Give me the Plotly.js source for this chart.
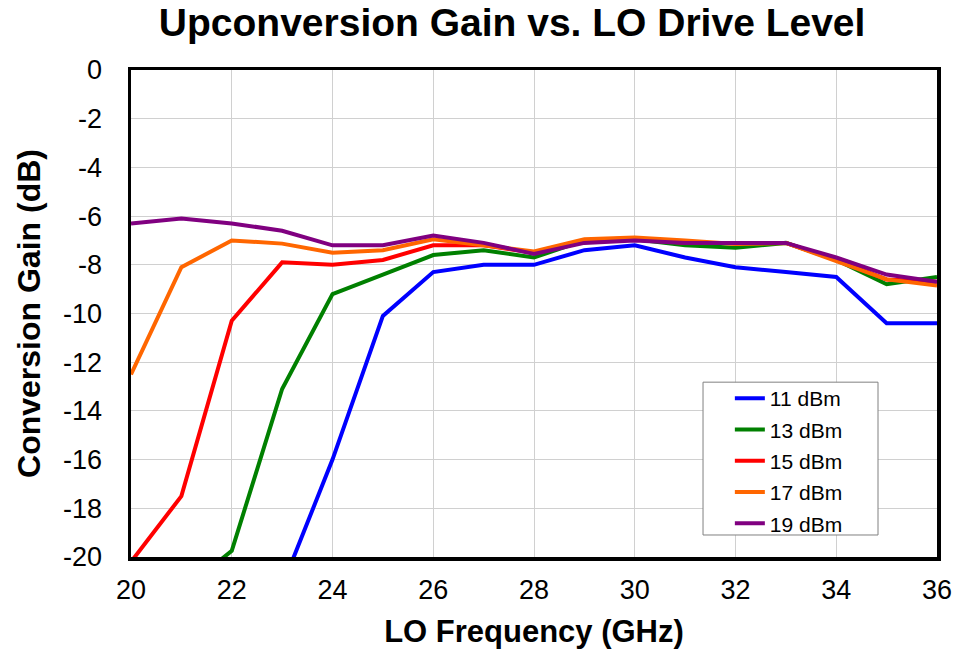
<!DOCTYPE html>
<html>
<head>
<meta charset="utf-8">
<script src="https://cdn.plot.ly/plotly-3.0.1.min.js"></script>
<style>html,body{margin:0;padding:0;background:#fff;}#chart{width:959px;height:656px;}</style>
</head>
<body>
<div id="chart"></div>
<script>
const freq = [20,21,22,23,24,25,26,27,28,29,30,31,32,33,34,35,36];
const seriesNames = ["11 dBm","13 dBm","15 dBm","17 dBm","19 dBm"];
const gain11 = [null,null,null,-21.2,-16.0,-10.1,-8.3,-8.0,-8.0,-7.4,-7.2,-7.7,-8.1,-8.3,-8.5,-10.4,-10.4];
const gain13 = [null,-21.4,-19.75,-13.1,-9.2,-8.4,-7.6,-7.4,-7.7,-7.0,-6.95,-7.2,-7.3,-7.1,-7.8,-8.8,-8.5];
const gain15 = [-20.2,-17.5,-10.3,-7.9,-8.0,-7.8,-7.2,-7.2,-7.5,-7.0,-6.9,-7.1,-7.1,-7.1,-7.8,-8.6,-8.7];
const gain17 = [-12.5,-8.1,-7.0,-7.13,-7.5,-7.4,-6.95,-7.2,-7.45,-6.95,-6.88,-7.0,-7.15,-7.1,-7.85,-8.6,-8.85];
const gain19 = [-6.3,-6.1,-6.3,-6.6,-7.2,-7.2,-6.8,-7.1,-7.55,-7.1,-7.0,-7.1,-7.1,-7.1,-7.7,-8.4,-8.7];
const yTickVals = [0,-2,-4,-6,-8,-10,-12,-14,-16,-18,-20];
const yTickText = ["0","-2","-4","-6","-8","-10","-12","-14","-16","-18","-20"];
const colors = ["#0000FF","#008000","#FF0000","#FF6600","#800080"];
const allGain = [gain11,gain13,gain15,gain17,gain19];

const traces = allGain.map((g,i)=>({
  x: freq, y: g, name: seriesNames[i], legendgroup: "g"+i, type:"scatter", mode:"lines",
  line:{color:colors[i], width:4}, connectgaps:false
}));

const FONT = "Liberation Sans, Arial, sans-serif";
const axisFont = {family:FONT, size:27, color:"#000"};
const layout = {
  width:959, height:656,
  margin:{l:131, r:22, t:70, b:99},
  paper_bgcolor:"#fff", plot_bgcolor:"#fff",
  title:{text:"<b>Upconversion Gain vs. LO Drive Level</b>", x:0.534, xanchor:"center", y:0.966, yanchor:"middle",
         font:{family:FONT, size:39, color:"#000"}},
  xaxis:{range:[20,36], dtick:2, tick0:20, showgrid:true, gridcolor:"#d0d0d0", gridwidth:1,
         showline:true, linecolor:"#000", linewidth:3.5, mirror:true, ticks:"", zeroline:false,
         tickfont:axisFont, ticklabelstandoff:6,
         title:{text:"<b>LO Frequency (GHz)</b>", font:{family:FONT, size:31, color:"#000"}, standoff:17}},
  yaxis:{range:[-20,0], tickmode:"array", tickvals:yTickVals, ticktext:yTickText, showgrid:true, gridcolor:"#d0d0d0", gridwidth:1,
         showline:true, linecolor:"#000", linewidth:3.5, mirror:true, ticks:"", zeroline:false,
         tickfont:axisFont, ticklabelstandoff:20,
         title:{text:"<b>Conversion Gain (dB)</b>", font:{family:FONT, size:32, color:"#000"}, standoff:14}},
  shapes:[{type:"rect", xref:"paper", yref:"paper", x0:0.7097, x1:0.9268, y0:0.0452, y1:0.359,
           fillcolor:"#fff", line:{color:"#808080", width:1}, layer:"above"}],
  legend:{x:0.743, xanchor:"left", y:0.3676, yanchor:"top", bgcolor:"rgba(0,0,0,0)", borderwidth:0,
          font:{family:FONT, size:21, color:"#000"}, tracegroupgap:1, itemwidth:30},
  showlegend:true
};
Plotly.newPlot("chart", traces, layout, {staticPlot:true, displayModeBar:false});
</script>
</body>
</html>
